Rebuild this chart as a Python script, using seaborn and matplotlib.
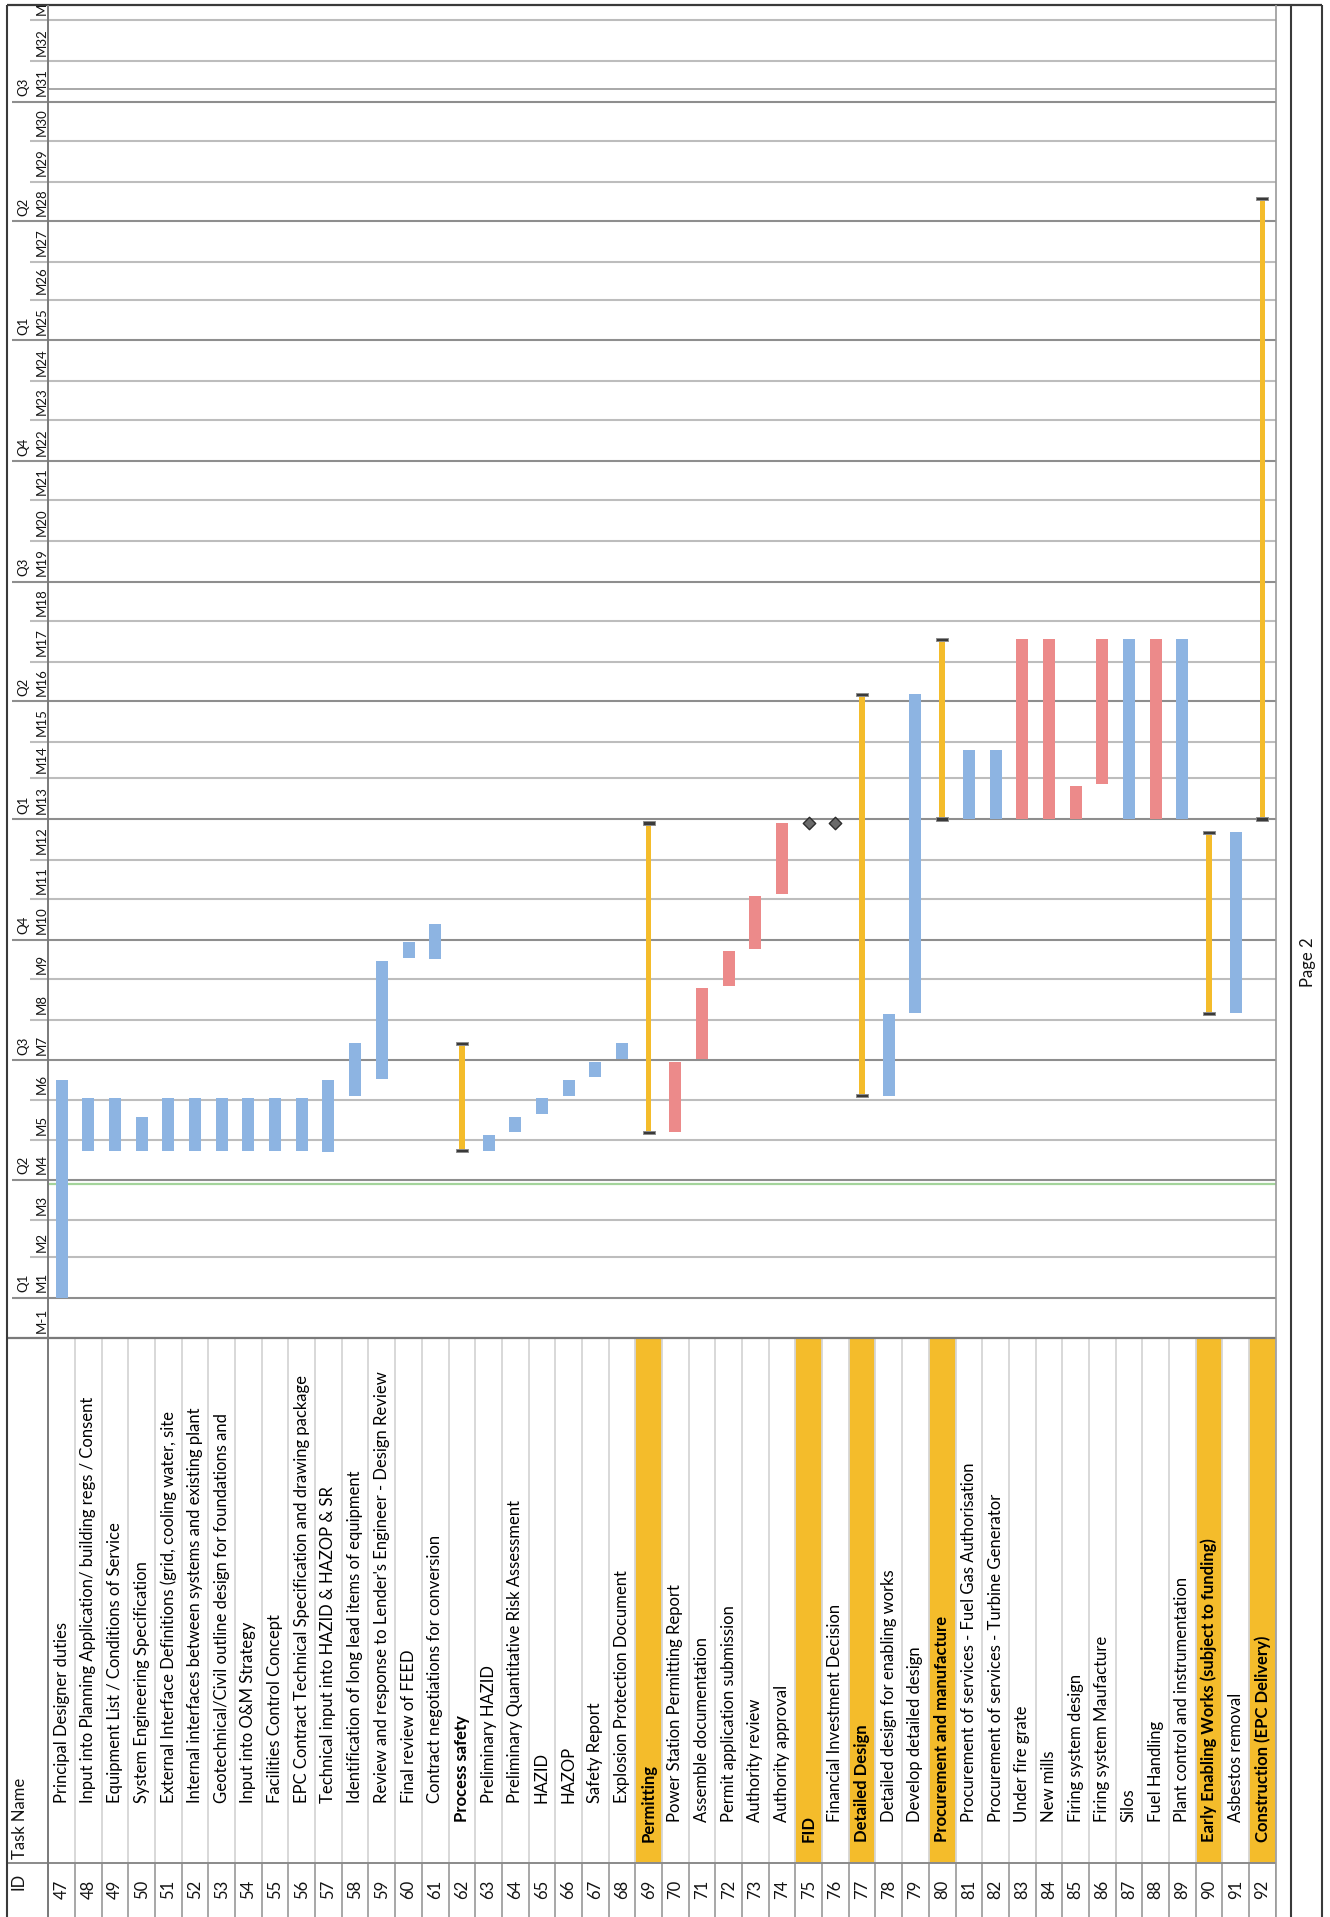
import numpy as np
import pandas as pd
import matplotlib
matplotlib.use("Agg")
import matplotlib.pyplot as plt
import matplotlib.dates as mdates
import seaborn as sns

# ---------------------------------------------------------------- data
task_ids = list(range(47, 93))
task_names = [
    "Principal Designer duties",
    "Input into Planning Application/ building regs / Consent",
    "Equipment List / Conditions of Service",
    "System Engineering Specification",
    "External Interface Definitions (grid, cooling water, site",
    "Internal interfaces between systems and existing plant",
    "Geotechnical/Civil outline design for foundations and",
    "Input into O&M Strategy",
    "Facilities Control Concept",
    "EPC Contract Technical Specification and drawing package",
    "Technical input into HAZID & HAZOP & SR",
    "Identification of long lead items of equipment",
    "Review and response to Lender's Engineer - Design Review",
    "Final review of FEED",
    "Contract negotiations for conversion",
    "Process safety",
    "Preliminary HAZID",
    "Preliminary Quantitative Risk Assessment",
    "HAZID",
    "HAZOP",
    "Safety Report",
    "Explosion Protection Document",
    "Permitting",
    "Power Station Permitting Report",
    "Assemble documentation",
    "Permit application submission",
    "Authority review",
    "Authority approval",
    "FID",
    "Financial Investment Decision",
    "Detailed Design",
    "Detailed design for enabling works",
    "Develop detailed design",
    "Procurement and manufacture",
    "Procurement of services - Fuel Gas Authorisation",
    "Procurement of services - Turbine Generator",
    "Under fire grate",
    "New mills",
    "Firing system design",
    "Firing system Maufacture",
    "Silos",
    "Fuel Handling",
    "Plant control and instrumentation",
    "Early Enabling Works (subject to funding)",
    "Asbestos removal",
    "Construction (EPC Delivery)",
]
outline_levels = [3] * 15 + [2] + [3] * 6 + [1] + [2] * 5 + [1, 2, 1, 2, 2, 1] + [2] * 9 + [1, 2, 1]
bar_kinds = (["blue"] * 15 + ["summary"] + ["blue"] * 6 + ["summary"] + ["red"] * 5
             + ["milestone", "milestone", "summary", "blue", "blue", "summary",
                "blue", "blue", "red", "red", "red", "red", "blue", "red", "blue",
                "summary", "blue", "summary"])
start_dates = [
    "2018-01-01", "2018-04-23", "2018-04-23", "2018-04-23", "2018-04-23",
    "2018-04-23", "2018-04-23", "2018-04-23", "2018-04-23", "2018-04-23",
    "2018-04-22", "2018-06-04", "2018-06-17", "2018-09-17", "2018-09-16",
    "2018-04-23", "2018-04-23", "2018-05-07", "2018-05-21", "2018-06-04",
    "2018-06-18", "2018-07-02", "2018-05-07", "2018-05-07", "2018-07-02",
    "2018-08-27", "2018-09-24", "2018-11-05", "2018-12-29", "2018-12-29",
    "2018-06-04", "2018-06-04", "2018-08-06", "2019-01-01", "2019-01-01",
    "2019-01-01", "2019-01-01", "2019-01-01", "2019-01-01", "2019-01-28",
    "2019-01-01", "2019-01-01", "2019-01-01", "2018-08-06", "2018-08-06",
    "2019-01-01",
]
end_dates = [
    "2018-06-16", "2018-06-02", "2018-06-02", "2018-05-19", "2018-06-02",
    "2018-06-02", "2018-06-02", "2018-06-02", "2018-06-02", "2018-06-02",
    "2018-06-16", "2018-07-14", "2018-09-15", "2018-09-29", "2018-10-13",
    "2018-07-14", "2018-05-05", "2018-05-19", "2018-06-02", "2018-06-16",
    "2018-06-30", "2018-07-14", "2018-12-29", "2018-06-30", "2018-08-25",
    "2018-09-22", "2018-11-03", "2018-12-29", "2018-12-29", "2018-12-29",
    "2019-04-06", "2018-08-05", "2019-04-06", "2019-05-18", "2019-02-23",
    "2019-02-23", "2019-05-18", "2019-05-18", "2019-01-26", "2019-05-18",
    "2019-05-18", "2019-05-18", "2019-05-18", "2018-12-22", "2018-12-22",
    "2020-04-18",
]
highlighted_ids = [69, 75, 77, 80, 90, 92]
bold_ids = [62, 69, 75, 77, 80, 90, 92]

status_date = "2018-03-29"
marker_line_date = "2020-07-11"
timeline_start, timeline_end = "2017-12-01", "2020-09-13"
month_starts = pd.date_range("2017-12-01", "2020-09-01", freq="MS")
month_labels = ["M-1"] + [f"M{i}" for i in range(1, 34)]
quarter_names = {1: "Q1", 4: "Q2", 7: "Q3", 10: "Q4"}
header_labels = ["ID", "Task Name"]
page_label = "Page 2"

# ---------------------------------------------------------------- style
sns.set_theme(style="white")
plt.rcParams["font.family"] = ["Lato", "DejaVu Sans"]

BLUE, RED, GOLD = "#8db4e2", "#ec8a8a", "#f4bc2b"
TEXT = "#141414"
MONTH_LINE, QUARTER_LINE = "#bdbdbd", "#8e8e8e"
FS_TASK, FS_TIME = 12, 9.5

W, H, DPI = 1330, 1917, 100
LEFT, HDR, RIGHT = 6.7, 48.3, 1275.7
TOP, TBL_TOP, BOTTOM = 4.7, 1338.3, 1917
ID_SEP = 1862.7
LEVEL_START = {1: 1841.7, 2: 1821.7, 3: 1803.3}

fig = plt.figure(figsize=(W / DPI, H / DPI), dpi=DPI)


def px_axes(x0, y0, x1, y1, **kw):
    ax = fig.add_axes([x0 / W, 1 - y1 / H, (x1 - x0) / W, (y1 - y0) / H], **kw)
    ax.set_axis_off()
    return ax


def dnum(values):
    return mdates.date2num(pd.to_datetime(values))


rows = np.arange(len(task_ids))
starts = dnum(start_dates)
ends = dnum(end_dates)
kinds = np.array(bar_kinds)

# ---------------------------------------------------------------- gantt area
ax_g = px_axes(HDR, TOP, RIGHT, TBL_TOP)
ax_g.set_xlim(-0.5, len(task_ids) - 0.5)
ax_g.set_ylim(dnum(timeline_start), dnum(timeline_end))

mnums = dnum(month_starts)
is_quarter = np.array([m.month in quarter_names for m in month_starts])
for y, q in zip(mnums, is_quarter):
    ax_g.axhline(y, color=QUARTER_LINE if q else MONTH_LINE, lw=1.5, zorder=1)
ax_g.axhline(dnum(marker_line_date), color="#9a9a9a", lw=1.2, zorder=1)
ax_g.axhline(dnum(status_date), color="#a4d49b", lw=1.6, zorder=2)

for kind, color in (("blue", BLUE), ("red", RED)):
    sel = kinds == kind
    ax_g.bar(rows[sel], ends[sel] - starts[sel], bottom=starts[sel],
             width=0.45, color=color, linewidth=0, zorder=3)

sel = kinds == "summary"
ax_g.bar(rows[sel], ends[sel] - starts[sel], bottom=starts[sel],
         width=0.2, color=GOLD, linewidth=0, zorder=3)
for edge in (starts[sel], ends[sel]):
    ax_g.bar(rows[sel], 2.4, bottom=edge - 1.2, width=0.46, color="#3a3a3a",
             edgecolor="#8c8c8c", linewidth=0.7, zorder=4)

sel = kinds == "milestone"
sns.scatterplot(x=rows[sel], y=starts[sel], marker="D", s=40, color="#6a6a6a",
                edgecolor="#2c2c2c", linewidth=1.0, ax=ax_g, zorder=5, legend=False)
ax_g.set_axis_off()

# ---------------------------------------------------------------- timescale
ax_h = px_axes(LEFT, TOP, HDR, TBL_TOP, sharey=ax_g)
ax_h.set_xlim(LEFT, HDR)
ax_h.hlines(mnums[is_quarter], 11.7, HDR, color=QUARTER_LINE, lw=1.5)
ax_h.hlines(mnums[~is_quarter], 30, HDR, color=MONTH_LINE, lw=1.5)
for m, y, lab in zip(month_starts, mnums, month_labels):
    ax_h.text(41.5, y + 4, lab, rotation=90, rotation_mode="anchor", ha="left",
              va="center", fontsize=FS_TIME, color=TEXT, clip_on=True)
    if m.month in quarter_names:
        ax_h.text(23, y + 4, quarter_names[m.month], rotation=90, rotation_mode="anchor",
                  ha="left", va="center", fontsize=FS_TIME, color=TEXT, clip_on=True)
ax_h.set_axis_off()

# ---------------------------------------------------------------- task table
ax_t = px_axes(HDR, TBL_TOP, RIGHT, BOTTOM, sharex=ax_g)
ax_t.set_ylim(BOTTOM, TBL_TOP)
hl = np.isin(task_ids, highlighted_ids)
ax_t.bar(rows[hl], ID_SEP - TBL_TOP, bottom=TBL_TOP, width=1.0, color=GOLD,
         linewidth=0, zorder=1)
edges = np.arange(-0.5, len(task_ids))
ax_t.vlines(edges, TBL_TOP, ID_SEP, colors="#d6d6d6", lw=1.3, zorder=2)
ax_t.vlines(edges, ID_SEP, BOTTOM, colors="#a0a0a0", lw=1.3, zorder=2)
for r, tid, name, lvl in zip(rows, task_ids, task_names, outline_levels):
    ax_t.text(r, LEVEL_START[lvl], name, rotation=90, rotation_mode="anchor",
              ha="left", va="center", fontsize=FS_TASK, color="black",
              fontweight="bold" if tid in bold_ids else "normal", zorder=3)
    ax_t.text(r, (ID_SEP + BOTTOM) / 2, str(tid), rotation=90, rotation_mode="anchor",
              ha="center", va="center", fontsize=FS_TASK, color=TEXT, zorder=3)
ax_t.set_axis_off()

ax_th = px_axes(LEFT, TBL_TOP, HDR, BOTTOM)
ax_th.set_xlim(LEFT, HDR)
ax_th.set_ylim(BOTTOM, TBL_TOP)
ax_th.text(19, 1890, header_labels[0], rotation=90, rotation_mode="anchor",
           ha="left", va="center", fontsize=FS_TASK, color=TEXT)
ax_th.text(20, 1859, header_labels[1], rotation=90, rotation_mode="anchor",
           ha="left", va="center", fontsize=FS_TASK, color=TEXT)

# ---------------------------------------------------------------- frame
ax_f = px_axes(0, 0, W, H)
ax_f.set_zorder(10)
ax_f.set_xlim(0, W)
ax_f.set_ylim(H, 0)
ax_f.hlines(TBL_TOP, LEFT, RIGHT, colors="#7a7a7a", lw=1.6)
ax_f.hlines(ID_SEP, LEFT, RIGHT, colors="#8a8a8a", lw=1.4)
ax_f.hlines(TOP, LEFT, 1322, colors="#3a3a3a", lw=1.6)
ax_f.vlines(HDR, TOP, BOTTOM, colors="#7a7a7a", lw=1.4)
ax_f.vlines(RIGHT, TOP, BOTTOM, colors="#9a9a9a", lw=1.2)
ax_f.vlines([LEFT, 1291, 1322], TOP, BOTTOM, colors="#3a3a3a", lw=1.5)
ax_f.text(1308, 962, page_label, rotation=90, ha="center", va="center",
          fontsize=FS_TASK, color=TEXT)

fig.savefig("out.png", dpi=DPI, facecolor="white")
